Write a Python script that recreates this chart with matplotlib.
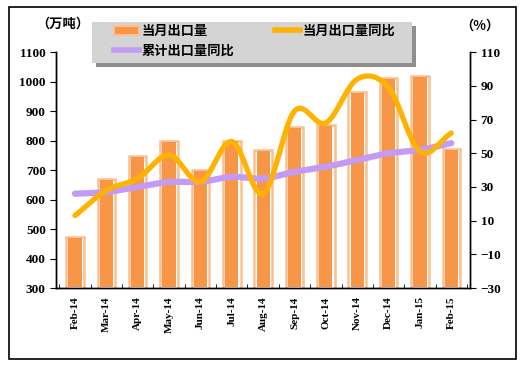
import matplotlib.pyplot as plt
import numpy as np
from matplotlib.patches import Rectangle
from matplotlib.lines import Line2D

plt.rcParams['font.family'] = ['Liberation Serif', 'Noto Sans CJK SC']

# datos
meses = ['Feb-14', 'Mar-14', 'Apr-14', 'May-14', 'Jun-14', 'Jul-14', 'Aug-14',
         'Sep-14', 'Oct-14', 'Nov-14', 'Dec-14', 'Jan-15', 'Feb-15']
export_mes = [472, 670, 748, 798, 700, 800, 768, 845, 852, 965, 1012, 1020, 770]
yoy_mes = [13, 28, 35, 49, 33, 57, 26, 75, 68, 94, 89, 51, 62]
yoy_acum = [26, 27, 30, 33, 33, 36, 35, 39, 42, 46, 50, 52, 56]

cjk = ['Noto Sans CJK SC']


def suavizar(x, y, n=20):
    # curva tipo Catmull-Rom para imitar la línea suavizada
    x = np.asarray(x, float); y = np.asarray(y, float)
    px = np.concatenate([[2 * x[0] - x[1]], x, [2 * x[-1] - x[-2]]])
    py = np.concatenate([[2 * y[0] - y[1]], y, [2 * y[-1] - y[-2]]])
    xs, ys = [], []
    t = np.linspace(0, 1, n)
    for i in range(1, len(px) - 2):
        for p, out in ((px, xs), (py, ys)):
            p0, p1, p2, p3 = p[i - 1], p[i], p[i + 1], p[i + 2]
            out.extend(0.5 * ((2 * p1) + (-p0 + p2) * t + (2 * p0 - 5 * p1 + 4 * p2 - p3) * t ** 2
                              + (-p0 + 3 * p1 - 3 * p2 + p3) * t ** 3))
    return np.array(xs), np.array(ys)


W, H = 530, 367
fig = plt.figure(figsize=(W / 100, H / 100), dpi=100)
fig.patches.append(Rectangle((0.017, 0.022), 0.957, 0.959, transform=fig.transFigure,
                             fill=False, edgecolor='black', linewidth=1.2))

ax = fig.add_axes([0.106, 0.215, 0.781, 0.643])
x = np.arange(len(meses))

ax.bar(x, export_mes, width=0.56, bottom=0, color='white', edgecolor='#FAC090', linewidth=1.8, zorder=2)
ax.bar(x, np.array(export_mes) - 300 - 6, width=0.42, bottom=303, color='#F79646', linewidth=0, zorder=3)
ax.set_ylim(300, 1100)
ax.set_xlim(-0.6, len(meses) - 0.4)
ax.set_yticks(range(300, 1101, 100))

ax2 = ax.twinx()
sx, sy = suavizar(x, yoy_acum)
ax2.plot(sx, sy, color='#C39BF5', linewidth=4.5, solid_capstyle='round', zorder=4)
sx, sy = suavizar(x, yoy_mes)
ax2.plot(sx, sy, color='#FFB300', linewidth=3.8, solid_capstyle='round', zorder=5)
ax2.set_ylim(-30, 110)
ax2.set_yticks(range(-30, 111, 20))
ax2.set_yticklabels([str(v).replace('-', '−') for v in range(-30, 111, 20)])

ax.set_xticks(x)
ax.set_xticklabels(meses, rotation=90, fontsize=8, fontweight='bold')
ax.set_xticks(np.arange(-0.5, len(meses), 1), minor=True)
ax.tick_params(axis='x', which='major', length=0, pad=6)
ax.tick_params(axis='x', which='minor', direction='in', length=3)
ax.tick_params(axis='y', direction='out', length=4, labelsize=9.5)
ax2.tick_params(axis='y', direction='out', length=4, labelsize=9.5)
for t in ax.get_yticklabels() + ax2.get_yticklabels():
    t.set_fontweight('bold')

for a in (ax, ax2):
    a.spines['top'].set_visible(False)
    for s in a.spines.values():
        s.set_linewidth(1)

fig.text(0.068, 0.935, '（万吨）', fontsize=9.5, fontweight='bold', family=cjk, ha='left', va='center')
fig.text(0.905, 0.93, '（%）', fontsize=9.5, fontweight='bold', family=cjk, ha='center', va='center')

# caja gris de la leyenda con sombra
fig.patches.append(Rectangle((96 / W, 1 - 67 / H), 320 / W, 41 / H, transform=fig.transFigure,
                             facecolor='#8E8E8E', edgecolor='none', zorder=2))
fig.patches.append(Rectangle((92 / W, 1 - 63 / H), 320 / W, 41 / H, transform=fig.transFigure,
                             facecolor='#D4D4D4', edgecolor='none', zorder=3))

h_bar = Rectangle((0, 0), 1, 1, facecolor='#F79646', edgecolor='#FAC090', linewidth=1.5)
h_acum = Line2D([], [], color='#C39BF5', linewidth=4)
h_mes = Line2D([], [], color='#FFB300', linewidth=4)
leg = fig.legend([h_bar, h_acum, h_mes], ['当月出口量', '累计出口量同比', '当月出口量同比'],
                 ncol=2, loc='upper left', bbox_to_anchor=(114 / W, 1 - 24 / H), frameon=False,
                 prop={'family': cjk, 'weight': 'bold', 'size': 9.5}, handlelength=1.9,
                 borderpad=0, borderaxespad=0, labelspacing=0.4, handletextpad=0.2,
                 columnspacing=3.1)
leg.set_zorder(6)

fig.savefig('out.png', dpi=100)
